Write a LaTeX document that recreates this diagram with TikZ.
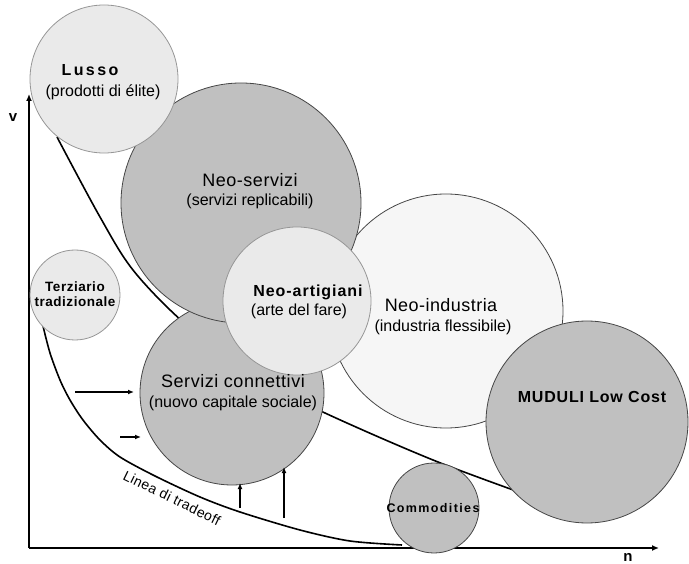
\documentclass[tikz,border=0pt]{standalone}
\usepackage{fontspec}
\setmainfont{Liberation Sans}
\usetikzlibrary{arrows.meta}
\definecolor{darkfill}{RGB}{192,192,192}
\definecolor{lightfill}{RGB}{234,234,234}
\definecolor{paler}{RGB}{246,246,246}
\definecolor{edgedark}{RGB}{70,70,70}
\definecolor{edgelight}{RGB}{150,150,150}
\newcommand{\fs}[1]{\fontsize{#1}{#1}\selectfont}
\newcommand{\ls}[1]{\addfontfeatures{LetterSpace=#1}}
\begin{document}
\begin{tikzpicture}[x=1pt,y=-1pt,
  bubble/.style={circle,inner sep=0pt,draw=edgedark,line width=0.8pt},
  dark/.style={bubble,fill=darkfill},
  light/.style={bubble,fill=lightfill,draw=edgelight},
  pale/.style={bubble,fill=paler,draw=edgedark},
  title/.style={inner sep=0pt,font=\fs{18}\ls{2.5}},
  btitle/.style={inner sep=0pt,font=\fs{16}\bfseries},
  sub/.style={inner sep=0pt,font=\fs{16}},
  curve/.style={line width=1.6pt,black},
  axis/.style={line width=1.8pt,-{Latex[length=7pt,width=6pt]}},
  push/.style={line width=1.4pt,-{Latex[length=6pt,width=5pt]}}
]
\useasboundingbox (0,0) rectangle (689,564);
% axes
\coordinate (O) at (29,548);
\coordinate (vtip) at (29,94);
\coordinate (ntip) at (659,548);
\draw[axis] (O) -- (vtip);
\draw[axis] (O) -- (ntip);
\node[inner sep=0pt,font=\fs{15}\bfseries] (vlab) at (13,118) {v};
\node[inner sep=0pt,font=\fs{15}\bfseries] (nlab) at (628,557) {n};
% bubbles in back
\node[pale,minimum size=234pt] (ind) at (446,311) {};
\draw[curve] plot[smooth,tension=0.55] coordinates {(57,137) (100,217) (133,270) (183,322) (250,375) (325,413) (433,460) (530,496)};
\node[dark,minimum size=202pt] (mud) at (587,422) {};
\node[dark,minimum size=184pt] (con) at (232,393) {};
\node[dark,minimum size=240pt] (ser) at (241,203) {};
\node[light,minimum size=148pt] (art) at (297,301) {};
\node[light,minimum size=148pt] (lux) at (104,79) {};
\draw[curve] plot[smooth,tension=0.5] coordinates {(43,326) (50,353) (60,380) (70,400) (83,420) (100,440) (120,457) (155,476) (200,497) (240,512) (300,530) (350,541) (402,545)};
\node[light,minimum size=90pt] (ter) at (75,295) {};
\node[dark,minimum size=90pt] (com) at (434,508) {};
% texts
\node[btitle,font=\fs{16}\bfseries\ls{15}] (luxa) at (90,70) {Lusso};
\node[sub] (luxb) at (103,92) {(prodotti di élite)};
\node[title,font=\fs{18}\ls{3}] (sera) at (250,180) {Neo-servizi};
\node[sub] (serb) at (250,201) {(servizi replicabili)};
\node[btitle,font=\fs{16}\bfseries\ls{6}] (arta) at (308,292) {Neo-artigiani};
\node[sub] (artb) at (299,311) {(arte del fare)};
\node[title] (inda) at (441,305) {Neo-industria};
\node[sub] (indb) at (443,327) {(industria flessibile)};
\node[title,font=\fs{18}\ls{3}] (cona) at (233,381) {Servizi connettivi};
\node[sub] (conb) at (233,403) {(nuovo capitale sociale)};
\node[inner sep=0pt,font=\fs{13.5}\bfseries\ls{4},align=center] (tera) at (75,294) {Terziario\\[2pt]tradizionale};
\node[btitle,font=\fs{16}\bfseries\ls{5}] (muda) at (592,397) {MUDULI Low Cost};
\node[inner sep=0pt,font=\fs{12.5}\bfseries\ls{11}] (coma) at (433,508) {Commodities};
\node[inner sep=0pt,font=\fs{14}\ls{3},rotate=-26] (trade) at (172,498) {Linea di tradeoff};
% pushing arrows
\coordinate (a1s) at (75,392); \coordinate (a1e) at (134,392);
\coordinate (a2s) at (120,437); \coordinate (a2e) at (141,437);
\coordinate (a3s) at (240,508); \coordinate (a3e) at (240,483);
\coordinate (a4s) at (284,518); \coordinate (a4e) at (284,467);
\draw[push] (a1s) -- (a1e);
\draw[push] (a2s) -- (a2e);
\draw[push] (a3s) -- (a3e);
\draw[push] (a4s) -- (a4e);
\end{tikzpicture}
\end{document}
